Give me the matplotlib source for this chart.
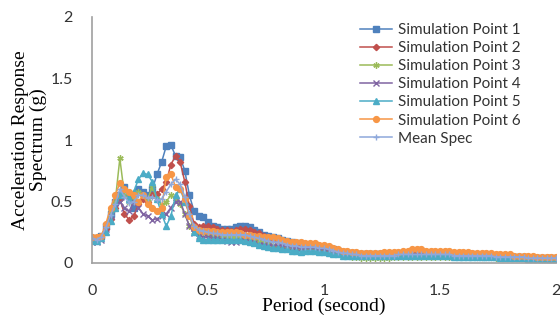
import matplotlib
matplotlib.use("Agg")
import matplotlib.pyplot as plt
import numpy as np

# period grid (s), sampled every 0.02 s
period = np.linspace(0, 2, 101)

sim1 = [0.20,0.20,0.22,0.30,0.40,0.50,0.55,0.62,0.55,0.45,
        0.60,0.58,0.55,0.60,0.72,0.82,0.95,0.96,0.87,0.86,
        0.75,0.55,0.42,0.38,0.37,0.33,0.30,0.29,0.28,0.28,
        0.28,0.29,0.30,0.30,0.29,0.27,0.25,0.23,0.22,0.21,
        0.20,0.19,0.18,0.17,0.16,0.15,0.14,0.14,0.14,0.13,
        0.13,0.12,0.11,0.10,0.09,0.08,0.08,0.07,0.07,0.07,
        0.07,0.07,0.07,0.07,0.07,0.07,0.07,0.08,0.08,0.08,
        0.08,0.08,0.08,0.08,0.08,0.08,0.07,0.07,0.07,0.07,
        0.07,0.07,0.07,0.06,0.06,0.06,0.06,0.06,0.06,0.05,
        0.05,0.05,0.05,0.05,0.04,0.04,0.04,0.04,0.04,0.04,0.04]
sim2 = [0.21,0.20,0.21,0.28,0.36,0.45,0.52,0.40,0.35,0.38,
        0.48,0.52,0.50,0.55,0.56,0.60,0.66,0.80,0.87,0.82,
        0.66,0.46,0.32,0.29,0.30,0.30,0.29,0.28,0.27,0.27,
        0.26,0.27,0.28,0.28,0.27,0.25,0.24,0.22,0.21,0.20,
        0.19,0.18,0.17,0.16,0.15,0.14,0.14,0.13,0.13,0.13,
        0.12,0.11,0.10,0.09,0.09,0.08,0.08,0.07,0.07,0.07,
        0.06,0.06,0.06,0.06,0.07,0.07,0.07,0.07,0.07,0.07,
        0.07,0.07,0.07,0.07,0.06,0.06,0.06,0.06,0.06,0.06,
        0.06,0.06,0.06,0.05,0.05,0.05,0.05,0.05,0.05,0.05,
        0.05,0.05,0.04,0.04,0.04,0.04,0.04,0.03,0.03,0.03,0.03]
sim3 = [0.20,0.19,0.21,0.30,0.42,0.50,0.85,0.55,0.50,0.52,
        0.58,0.55,0.52,0.62,0.52,0.47,0.50,0.55,0.52,0.48,
        0.40,0.30,0.25,0.24,0.24,0.23,0.22,0.22,0.21,0.21,
        0.21,0.21,0.21,0.20,0.20,0.19,0.18,0.17,0.16,0.15,
        0.14,0.13,0.12,0.12,0.11,0.11,0.11,0.11,0.11,0.10,
        0.10,0.09,0.08,0.07,0.06,0.06,0.05,0.05,0.04,0.04,
        0.04,0.04,0.04,0.04,0.04,0.05,0.05,0.05,0.05,0.05,
        0.05,0.05,0.05,0.05,0.05,0.05,0.05,0.05,0.05,0.05,
        0.05,0.05,0.05,0.05,0.05,0.05,0.05,0.04,0.04,0.04,
        0.04,0.04,0.04,0.04,0.04,0.04,0.04,0.04,0.04,0.04,0.04]
sim4 = [0.17,0.17,0.19,0.28,0.38,0.45,0.50,0.45,0.42,0.50,
        0.45,0.40,0.38,0.35,0.36,0.38,0.40,0.45,0.50,0.50,
        0.40,0.30,0.24,0.22,0.21,0.21,0.20,0.20,0.19,0.18,
        0.17,0.17,0.18,0.18,0.17,0.16,0.15,0.15,0.14,0.14,
        0.14,0.14,0.13,0.13,0.12,0.12,0.12,0.12,0.12,0.11,
        0.11,0.10,0.09,0.08,0.07,0.07,0.06,0.06,0.06,0.06,
        0.06,0.06,0.06,0.06,0.06,0.06,0.06,0.06,0.06,0.06,
        0.06,0.06,0.06,0.06,0.06,0.06,0.06,0.06,0.06,0.05,
        0.05,0.05,0.05,0.05,0.05,0.05,0.05,0.05,0.05,0.04,
        0.04,0.04,0.04,0.04,0.04,0.04,0.04,0.04,0.04,0.04,0.04]
sim5 = [0.18,0.18,0.20,0.25,0.34,0.45,0.55,0.60,0.52,0.58,
        0.68,0.73,0.72,0.66,0.52,0.40,0.30,0.38,0.55,0.60,
        0.50,0.40,0.25,0.20,0.19,0.19,0.19,0.19,0.19,0.19,
        0.19,0.19,0.19,0.18,0.17,0.16,0.15,0.14,0.13,0.12,
        0.12,0.11,0.11,0.10,0.10,0.09,0.10,0.10,0.10,0.09,
        0.09,0.08,0.07,0.07,0.06,0.06,0.06,0.06,0.06,0.06,
        0.06,0.06,0.06,0.06,0.06,0.06,0.06,0.06,0.06,0.06,
        0.06,0.06,0.06,0.06,0.06,0.06,0.06,0.06,0.05,0.05,
        0.05,0.05,0.05,0.05,0.05,0.05,0.05,0.05,0.04,0.04,
        0.04,0.04,0.04,0.04,0.03,0.03,0.03,0.03,0.03,0.03,0.03]
sim6 = [0.21,0.21,0.22,0.32,0.45,0.55,0.65,0.60,0.58,0.55,
        0.50,0.55,0.48,0.45,0.42,0.45,0.70,0.72,0.62,0.60,
        0.52,0.38,0.29,0.27,0.26,0.26,0.26,0.25,0.25,0.25,
        0.25,0.25,0.24,0.23,0.23,0.22,0.22,0.21,0.21,0.21,
        0.20,0.19,0.18,0.17,0.17,0.17,0.16,0.16,0.16,0.15,
        0.15,0.14,0.12,0.11,0.10,0.10,0.09,0.09,0.08,0.08,
        0.08,0.08,0.08,0.09,0.09,0.09,0.09,0.10,0.10,0.11,
        0.11,0.11,0.10,0.10,0.10,0.10,0.10,0.10,0.09,0.09,
        0.09,0.09,0.08,0.08,0.08,0.08,0.08,0.07,0.07,0.07,
        0.07,0.06,0.06,0.06,0.06,0.06,0.05,0.05,0.05,0.05,0.05]
mean_spec = [0.20,0.19,0.21,0.29,0.39,0.48,0.60,0.54,0.49,0.50,
             0.55,0.55,0.53,0.54,0.51,0.52,0.58,0.64,0.68,0.64,
             0.54,0.40,0.30,0.27,0.26,0.25,0.24,0.24,0.23,0.23,
             0.23,0.23,0.23,0.23,0.22,0.21,0.20,0.19,0.18,0.17,
             0.17,0.16,0.15,0.14,0.14,0.13,0.13,0.13,0.13,0.12,
             0.12,0.11,0.10,0.09,0.08,0.08,0.07,0.07,0.06,0.06,
             0.06,0.06,0.06,0.06,0.06,0.06,0.07,0.07,0.07,0.07,
             0.07,0.07,0.07,0.07,0.07,0.07,0.07,0.07,0.06,0.06,
             0.06,0.06,0.06,0.06,0.06,0.06,0.06,0.05,0.05,0.05,
             0.05,0.05,0.05,0.05,0.04,0.04,0.04,0.04,0.04,0.04,0.04]

labels = ["Simulation Point 1","Simulation Point 2","Simulation Point 3",
          "Simulation Point 4","Simulation Point 5","Simulation Point 6","Mean Spec"]
series = [sim1, sim2, sim3, sim4, sim5, sim6, mean_spec]
colors = ["#4F81BD","#C0504D","#9BBB59","#8064A2","#4BACC6","#F79646","#8EA8DB"]
markers = ["s","D",(6,2,0),"x","^","o","+"]
msizes = [4.2,3.2,4.5,4,4,4.2,5]

fig = plt.figure(figsize=(5.6,3.33), dpi=100)
ax = fig.add_axes([92/560, 70/333, 464/560, 246/333])
for y, lab, c, m, ms in zip(series, labels, colors, markers, msizes):
    ax.plot(period, y, color=c, marker=m, markersize=ms, lw=1.1, label=lab,
            markeredgecolor=c, markerfacecolor=c, markeredgewidth=1.0)

ax.set_xlim(0,2); ax.set_ylim(0,2)
ax.set_xticks([0,0.5,1,1.5,2]); ax.set_xticklabels(["0","0.5","1","1.5","2"])
ax.set_yticks([0,0.5,1,1.5,2]); ax.set_yticklabels(["0","0.5","1","1.5","2"])
ax.tick_params(length=0, labelsize=11.5, labelcolor="#333333")
ax.tick_params(axis="x", pad=15)
ax.tick_params(axis="y", pad=14)
for lab in ax.get_xticklabels()+ax.get_yticklabels():
    lab.set_family("Lato")
for s in ["top","right"]:
    ax.spines[s].set_visible(False)
for s in ["left","bottom"]:
    ax.spines[s].set_color("#A0A0A0"); ax.spines[s].set_linewidth(1.2)

ax.set_xlabel("Period (second)", family="Liberation Serif", fontsize=14, labelpad=0)
ax.set_ylabel("Acceleration Response\nSpectrum (g)", family="Liberation Serif",
              fontsize=14, labelpad=2, linespacing=1.1)

leg = fig.legend(loc="upper left", bbox_to_anchor=(360/560, 1-23/333), frameon=False,
                 prop={"family":"Lato","size":11}, handlelength=2.1, handletextpad=0.4,
                 labelspacing=0.27, borderpad=0, borderaxespad=0)
for t in leg.get_texts():
    t.set_color("#333333")

fig.savefig("out.png", dpi=100)
